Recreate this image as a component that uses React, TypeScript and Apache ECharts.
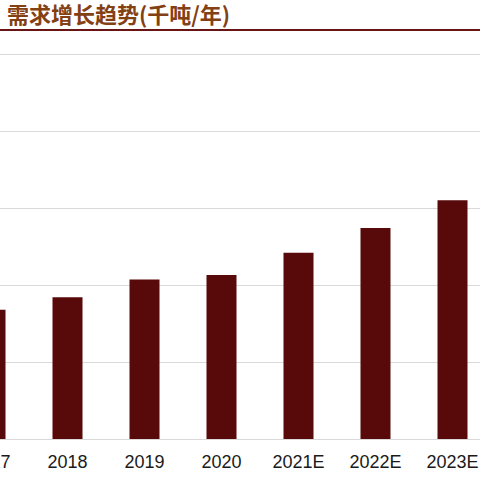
import { useEffect, useRef } from "react";
import * as echarts from "echarts";

// demand trend, thousand tonnes per year (y scale labels are off the crop)
const years = ["2017", "2018", "2019", "2020", "2021E", "2022E", "2023E"];
const demand = [168, 184, 207, 213, 242, 274, 310];
const titleText = "需求增长趋势(千吨/年)";

const SHIFT = 48; // the reference is cropped on the left

export default function App() {
  const chartRef = useRef<HTMLDivElement>(null);

  useEffect(() => {
    if (!chartRef.current) return;
    const chart = echarts.init(chartRef.current, undefined, { renderer: "svg" });
    chart.setOption({
      animation: false,
      backgroundColor: "#ffffff",
      grid: { left: 0, right: 1, top: 54, bottom: 41 },
      xAxis: {
        type: "category",
        data: years,
        axisLine: { lineStyle: { color: "#d9d9d9", width: 1 } },
        axisTick: { show: false },
        axisLabel: {
          color: "#1a1a1a",
          fontSize: 18,
          fontFamily: "Liberation Sans",
          margin: 14,
        },
      },
      yAxis: {
        type: "value",
        min: 0,
        max: 500,
        interval: 100,
        axisLabel: { show: false },
        axisLine: { show: false },
        axisTick: { show: false },
        splitLine: { lineStyle: { color: "#d9d9d9", width: 1 } },
      },
      series: [
        {
          type: "bar",
          data: demand,
          barWidth: 30,
          itemStyle: { color: "#580909" },
        },
      ],
      graphic: [
        {
          type: "text",
          left: SHIFT + 7,
          top: 2,
          style: {
            text: titleText,
            fill: "#834014",
            font: "bold 22px 'Noto Sans CJK SC'",
          },
        },
        {
          type: "line",
          shape: { x1: 0, y1: 30, x2: 540, y2: 30 },
          style: { stroke: "#6a1515", lineWidth: 2 },
        },
      ],
    });
    return () => chart.dispose();
  }, []);

  return (
    <div
      style={{
        position: "fixed",
        left: 0,
        top: 0,
        width: 480,
        height: 480,
        overflow: "hidden",
        background: "#fff",
      }}
    >
      <div
        ref={chartRef}
        style={{ position: "absolute", left: -SHIFT, top: 0, width: 540, height: 480 }}
      />
    </div>
  );
}
